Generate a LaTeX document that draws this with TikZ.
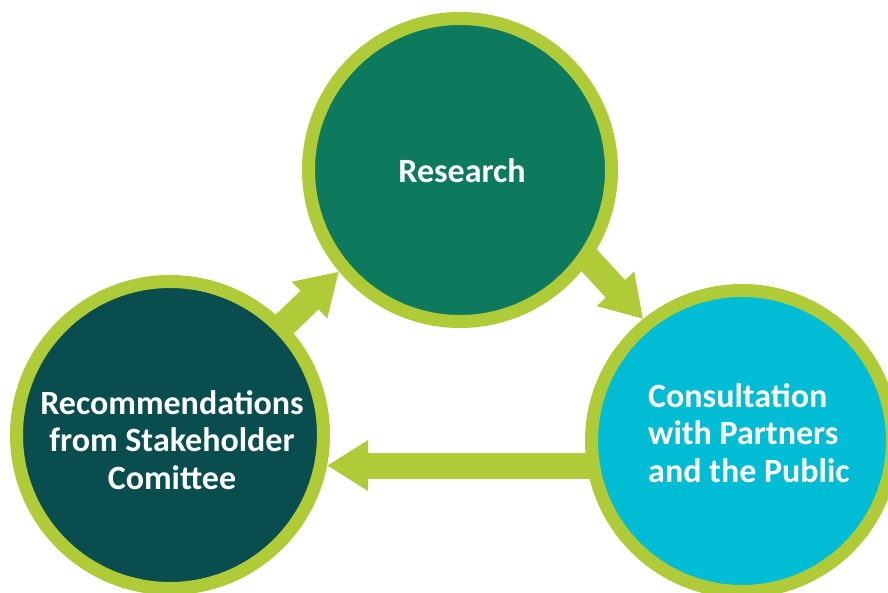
\documentclass[tikz,border=0pt]{standalone}
\usepackage{fontspec}
\setmainfont{Carlito}
\usetikzlibrary{arrows.meta,backgrounds,calc}
\definecolor{lime}{HTML}{AFCB37}
\definecolor{resfill}{HTML}{0D7A5E}
\definecolor{recfill}{HTML}{0A4D4F}
\definecolor{confill}{HTML}{00BCD4}
\tikzset{
  ring/.style={circle, draw=lime, line width=13pt, inner sep=0pt},
  fat/.style={draw=lime, line width=26pt, -{Triangle[length=41pt,width=48pt]}},
  lbl/.style={text=white, font=\fontsize{34}{37.7}\selectfont\bfseries, inner sep=0pt}
}
\begin{document}
\begin{tikzpicture}[x=1pt,y=-1pt]
\useasboundingbox (0,0) rectangle (888,592);
\clip (0,0) rectangle (888,592);
\node[ring, fill=resfill, minimum size=303pt] (T) at (460,170) {};
\node[ring, fill=recfill, minimum size=307pt] (L) at (170,435) {};
\node[ring, fill=confill, minimum size=301pt] (R) at (742,441) {};
\begin{scope}[on background layer]
  \fill[white] (0,0) rectangle (888,592);
  \draw[fat] (L.center) -- (T.220);
  \draw[fat, shorten <=-40pt] (T.-35) -- (R.129);
  \draw[fat] (R.center |- L.-11) -- (L.-11);
\end{scope}
\node[lbl] (Tt) at (462,171) {Research};
\node[lbl, align=center] (Lt) at (172,440) {Recommendations\\from Stakeholder\\Comittee};
\node[lbl, align=left, anchor=west] (Rt) at (648,433) {Consultation\\with Partners\\and the Public};
\end{tikzpicture}
\end{document}
